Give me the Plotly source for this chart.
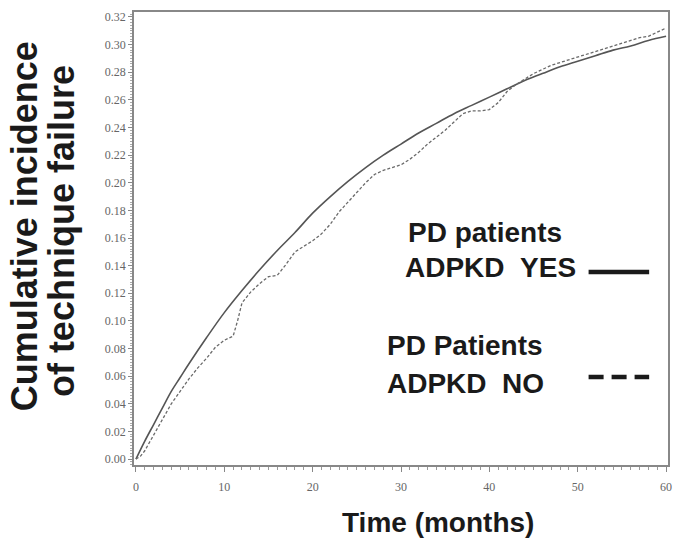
import plotly.graph_objects as go

# ADPKD YES (solid) cumulative incidence
months_yes = [0, 1, 2, 3, 4, 5, 6, 8, 10, 12, 14, 16, 18, 20, 22, 24, 26, 28, 30,
              32, 34, 36, 38, 40, 42, 44, 46, 48, 50, 52, 54, 56, 58, 60]
inc_yes = [0.000, 0.013, 0.025, 0.037, 0.049, 0.059, 0.069, 0.088, 0.106, 0.122,
           0.137, 0.151, 0.164, 0.178, 0.190, 0.201, 0.211, 0.220, 0.228, 0.236,
           0.243, 0.250, 0.256, 0.262, 0.268, 0.274, 0.279, 0.284, 0.288, 0.292,
           0.296, 0.299, 0.303, 0.306]

# ADPKD NO (dashed) cumulative incidence
months_no = [0, 0.5, 1, 2, 3, 4, 5, 6, 7, 8, 9, 10, 11, 11.5, 12, 13, 14, 15, 16,
             17, 18, 19, 20, 21, 22, 23, 24, 25, 26, 27, 28, 29, 30, 31, 32, 33,
             34, 35, 36, 37, 38, 39, 40, 41, 42, 43, 44, 45, 46, 47, 48, 49, 50,
             51, 52, 53, 54, 55, 56, 57, 58, 59, 60]
inc_no = [0.000, 0.002, 0.006, 0.017, 0.029, 0.040, 0.049, 0.058, 0.066, 0.073,
          0.081, 0.086, 0.089, 0.100, 0.113, 0.121, 0.127, 0.132, 0.133, 0.141,
          0.150, 0.154, 0.158, 0.163, 0.170, 0.179, 0.186, 0.193, 0.200, 0.206,
          0.209, 0.211, 0.213, 0.217, 0.222, 0.228, 0.233, 0.238, 0.244, 0.250,
          0.252, 0.252, 0.253, 0.258, 0.266, 0.271, 0.275, 0.279, 0.282, 0.285,
          0.287, 0.289, 0.291, 0.293, 0.295, 0.297, 0.299, 0.301, 0.303, 0.305,
          0.306, 0.309, 0.312]

x_ticks = [0, 10, 20, 30, 40, 50, 60]
y_ticks = [0.00, 0.02, 0.04, 0.06, 0.08, 0.10, 0.12, 0.14, 0.16, 0.18, 0.20,
           0.22, 0.24, 0.26, 0.28, 0.30, 0.32]

fig = go.Figure()
fig.add_trace(go.Scatter(x=months_yes, y=inc_yes, mode="lines", line_shape="spline",
                         line=dict(color="#555555", width=1.6), name="ADPKD YES",
                         showlegend=False))
fig.add_trace(go.Scatter(x=months_no, y=inc_no, mode="lines",
                         line=dict(color="#6a6a6a", width=1.3, dash="3px,2px"),
                         name="ADPKD NO", showlegend=False))

tickfont = dict(family="Liberation Serif", size=12, color="#666666")
fig.update_xaxes(range=[-0.22, 60.22], tickvals=x_ticks,
                 ticktext=[str(v) for v in x_ticks],
                 showline=True, mirror=True, linecolor="#888888", linewidth=1.6,
                 ticks="outside", ticklen=5, tickcolor="#888888", tickwidth=1,
                 minor=dict(ticks="outside", dtick=1, ticklen=3, tickcolor="#999999"),
                 showgrid=False, zeroline=False, tickfont=tickfont,
                 ticklabelstandoff=5)
fig.update_yaxes(range=[-0.0043, 0.3236], tickvals=y_ticks,
                 ticktext=[f"{v:.2f}" for v in y_ticks],
                 showline=True, mirror=True, linecolor="#888888", linewidth=1.6,
                 ticks="outside", ticklen=4, tickcolor="#888888", tickwidth=1,
                 minor=dict(ticks="outside", dtick=0.002, ticklen=2, tickcolor="#aaaaaa"),
                 showgrid=False, zeroline=False, tickfont=tickfont)

bold = "Liberation Sans"
ann = []
ann.append(dict(text="<b>Cumulative incidence</b>", x=-0.2045, y=0.5265, xref="paper",
                yref="paper", textangle=-90, showarrow=False, xanchor="center",
                yanchor="middle", font=dict(family=bold, size=36, color="#1a1a1a")))
ann.append(dict(text="<b>of technique failure</b>", x=-0.137, y=0.516, xref="paper",
                yref="paper", textangle=-90, showarrow=False, xanchor="center",
                yanchor="middle", font=dict(family=bold, size=36, color="#1a1a1a")))
ann.append(dict(text="<b>Time (months)</b>", x=0.569, y=-0.126, xref="paper",
                yref="paper", showarrow=False, xanchor="center", yanchor="middle",
                font=dict(family=bold, size=28, color="#1a1a1a")))
leg = [("PD patients", 0.5093, 0.513), ("ADPKD\u00a0\u00a0YES", 0.5037, 0.436),
       ("PD Patients", 0.4703, 0.2627), ("ADPKD\u00a0\u00a0NO", 0.4703, 0.181)]
for t, lx, ly in leg:
    ann.append(dict(text=f"<b>{t}</b>", x=lx, y=ly, xref="paper", yref="paper",
                    showarrow=False, xanchor="left", yanchor="middle",
                    font=dict(family=bold, size=28, color="#1a1a1a")))

shapes = [
    dict(type="line", xref="paper", yref="paper", x0=0.8513, x1=0.9647, y0=0.426,
         y1=0.426, line=dict(color="#1a1a1a", width=4.5)),
    dict(type="line", xref="paper", yref="paper", x0=0.8513, x1=0.9647, y0=0.194,
         y1=0.194, line=dict(color="#1a1a1a", width=4.5, dash="15px,8px")),
]

fig.update_layout(width=677, height=542, margin=dict(l=134, r=5, t=12, b=77),
                  plot_bgcolor="white", paper_bgcolor="white",
                  annotations=ann, shapes=shapes, showlegend=False)

fig.write_html("out.html", config={"displayModeBar": False},
               post_script="document.body.style.margin='0';document.body.style.overflow='hidden';")
